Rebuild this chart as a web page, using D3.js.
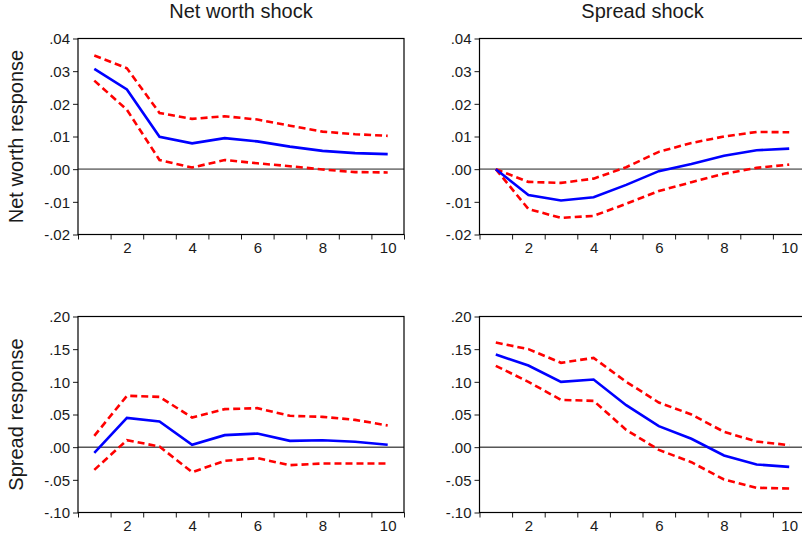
<!DOCTYPE html>
<html>
<head>
<meta charset="utf-8">
<script src="https://cdn.jsdelivr.net/npm/d3@7"></script>
<style>
  html, body { margin: 0; padding: 0; background: #fff; }
  svg { display: block; }
  text { font-family: "Liberation Sans", Arial, Helvetica, sans-serif; fill: #1a1a1a; }
</style>
</head>
<body>
<svg id="chart" width="802" height="543"></svg>
<script>
// Horizons 1..10
const periods = [1, 2, 3, 4, 5, 6, 7, 8, 9, 10];
const xLabels = [2, 4, 6, 8, 10];

// Net worth response to a net worth shock
const nwNwMid   = [0.0307, 0.0244, 0.0099, 0.0079, 0.0095, 0.0085, 0.0069, 0.0056, 0.0049, 0.0046];
const nwNwUpper = [0.0348, 0.0309, 0.0172, 0.0154, 0.0162, 0.0152, 0.0133, 0.0115, 0.0107, 0.0102];
const nwNwLower = [0.0271, 0.0182, 0.0028, 0.0005, 0.0028, 0.0018, 0.0009, -0.0001, -0.0009, -0.0010];

// Net worth response to a spread shock
const spNwMid   = [0.0000, -0.0079, -0.0096, -0.0086, -0.0048, -0.0006, 0.0016, 0.0041, 0.0058, 0.0063];
const spNwUpper = [0.0000, -0.0039, -0.0042, -0.0029, 0.0006, 0.0053, 0.0080, 0.0100, 0.0114, 0.0113];
const spNwLower = [0.0000, -0.0122, -0.0149, -0.0143, -0.0106, -0.0067, -0.0040, -0.0014, 0.0004, 0.0014];

// Spread response to a net worth shock
const nwSpMid   = [-0.0087, 0.0448, 0.0392, 0.0036, 0.0184, 0.0209, 0.0097, 0.0107, 0.0082, 0.0036];
const nwSpUpper = [0.0173, 0.0786, 0.0770, 0.0454, 0.0582, 0.0597, 0.0480, 0.0464, 0.0418, 0.0332];
const nwSpLower = [-0.0347, 0.0107, 0.0010, -0.0383, -0.0209, -0.0168, -0.0276, -0.0250, -0.0250, -0.0250];

// Spread response to a spread shock
const spSpMid   = [0.1418, 0.1250, 0.1000, 0.1036, 0.0643, 0.0321, 0.0128, -0.0128, -0.0265, -0.0301];
const spSpUpper = [0.1602, 0.1500, 0.1291, 0.1367, 0.1000, 0.0684, 0.0500, 0.0235, 0.0087, 0.0031];
const spSpLower = [0.1245, 0.1000, 0.0724, 0.0709, 0.0265, -0.0041, -0.0230, -0.0495, -0.0622, -0.0633];

const netWorthTicks = [-0.02, -0.01, 0.00, 0.01, 0.02, 0.03, 0.04];
const spreadTicks   = [-0.10, -0.05, 0.00, 0.05, 0.10, 0.15, 0.20];

const columnTitles = ["Net worth shock", "Spread shock"];
const rowTitles = ["Net worth response", "Spread response"];

const svg = d3.select("#chart");

const plotW = 326;
const plotH = 196;
const colLeft = [78, 479.5];
const rowTop = [38.5, 316.5];

// ".04", "-.01", ".00" (plain hyphen, no leading zero)
const fmtTick = v => (v < -1e-9 ? "-" : "") + Math.abs(v).toFixed(2).replace(/^0/, "");

const panels = [
  { row: 0, col: 0, ticks: netWorthTicks, mid: nwNwMid, up: nwNwUpper, lo: nwNwLower, zeroColor: "#808080", zeroWidth: 1.6 },
  { row: 0, col: 1, ticks: netWorthTicks, mid: spNwMid, up: spNwUpper, lo: spNwLower, zeroColor: "#808080", zeroWidth: 1.6 },
  { row: 1, col: 0, ticks: spreadTicks, mid: nwSpMid, up: nwSpUpper, lo: nwSpLower, zeroColor: "#000000", zeroWidth: 1 },
  { row: 1, col: 1, ticks: spreadTicks, mid: spSpMid, up: spSpUpper, lo: spSpLower, zeroColor: "#000000", zeroWidth: 1 }
];

panels.forEach(p => {
  const x0 = colLeft[p.col];
  const y0 = rowTop[p.row];
  const g = svg.append("g").attr("transform", `translate(${x0},${y0})`);

  const x = d3.scaleLinear().domain([0.5, 10.5]).range([0, plotW]);
  const y = d3.scaleLinear().domain(d3.extent(p.ticks)).range([plotH, 0]);

  // zero reference line
  g.append("line")
    .attr("x1", 0).attr("x2", plotW)
    .attr("y1", y(0)).attr("y2", y(0))
    .attr("stroke", p.zeroColor).attr("stroke-width", p.zeroWidth);

  // y axis
  const yAxis = g.append("g")
    .call(d3.axisLeft(y).tickValues(p.ticks).tickFormat(fmtTick).tickSize(5).tickPadding(3));
  yAxis.select(".domain").remove();
  yAxis.selectAll("line").attr("stroke", "#1a1a1a");
  yAxis.selectAll("text").attr("font-size", 15).attr("font-family", null).attr("dy", "0.36em");

  // x axis: ticks at period boundaries, labels at even periods
  const xTickVals = d3.range(0.5, 10.6, 1);
  const xAxis = g.append("g").attr("transform", `translate(0,${plotH})`)
    .call(d3.axisBottom(x).tickValues(xTickVals).tickFormat("").tickSize(5));
  xAxis.select(".domain").remove();
  xAxis.selectAll("line").attr("stroke", "#1a1a1a");

  const xLab = g.append("g").attr("transform", `translate(0,${plotH})`)
    .call(d3.axisBottom(x).tickValues(xLabels).tickFormat(d3.format("d")).tickSize(0).tickPadding(8));
  xLab.select(".domain").remove();
  xLab.selectAll("text").attr("font-size", 15).attr("font-family", null);

  // frame
  g.append("rect")
    .attr("x", 0).attr("y", 0).attr("width", plotW).attr("height", plotH)
    .attr("fill", "none").attr("stroke", "#000").attr("stroke-width", 1.2);

  const line = d3.line().x((d, i) => x(periods[i])).y(d => y(d));

  [p.up, p.lo].forEach(series => {
    g.append("path").datum(series)
      .attr("d", line)
      .attr("fill", "none")
      .attr("stroke", "#ff0000")
      .attr("stroke-width", 2.6)
      .attr("stroke-dasharray", "7,4");
  });

  g.append("path").datum(p.mid)
    .attr("d", line)
    .attr("fill", "none")
    .attr("stroke", "#0000ff")
    .attr("stroke-width", 2.6);
});

// column titles
columnTitles.forEach((t, i) => {
  svg.append("text")
    .attr("x", colLeft[i] + plotW / 2)
    .attr("y", 18)
    .attr("text-anchor", "middle")
    .attr("font-size", 20)
    .text(t);
});

// row titles
rowTitles.forEach((t, i) => {
  const cy = rowTop[i] + plotH / 2;
  svg.append("text")
    .attr("transform", `translate(23,${cy}) rotate(-90)`)
    .attr("text-anchor", "middle")
    .attr("font-size", 20)
    .text(t);
});
</script>
</body>
</html>
